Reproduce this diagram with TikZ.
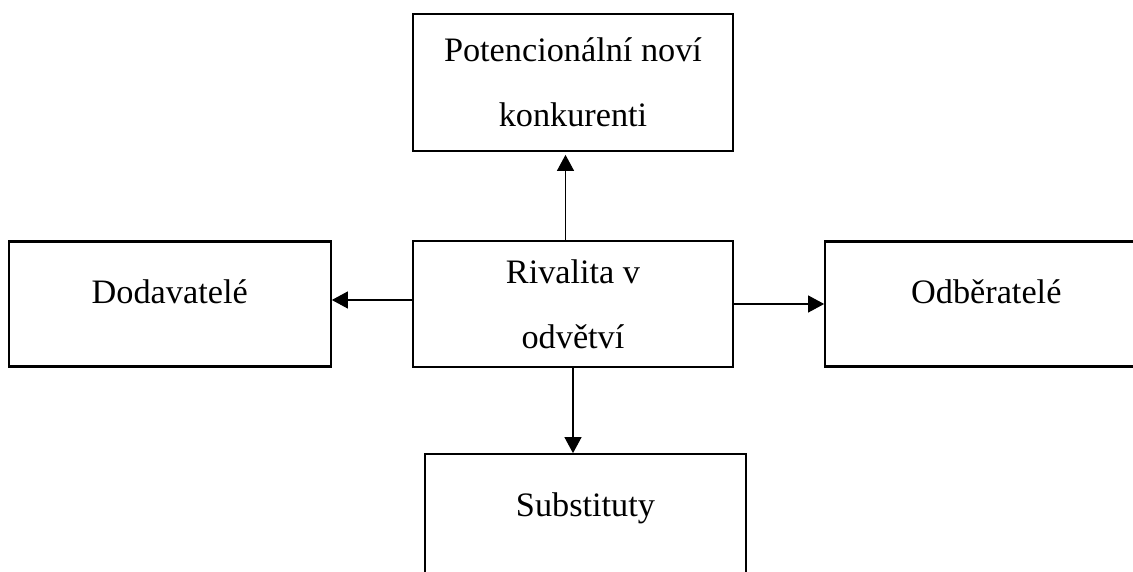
\documentclass[tikz,border=0pt]{standalone}
\usepackage{fontspec}
\setmainfont{Liberation Serif}
\usepackage{tikz}
\usetikzlibrary{positioning,arrows.meta}

\begin{document}
\begin{tikzpicture}[
    force/.style={rectangle, draw=black, line width=1.3pt, fill=white,
                  minimum width=6.42cm, minimum height=2.5cm, align=center,
                  font=\fontsize{19.5}{37}\selectfont},
    single/.style={text depth=0.48cm},
    arrow/.style={-{Triangle[length=0.32cm, width=0.34cm]}, line width=0.6pt, draw=black}
]
\useasboundingbox (-11.46,-5.36) rectangle (11.2,6.08);

% Centre: rivalry
\node[force, minimum width=6.4cm, minimum height=2.52cm] (riv) at (0,0) {Rivalita v\\odvětví};

% Surrounding forces
\node[force, minimum width=6.4cm, minimum height=2.74cm, above=1.76cm of riv] (new) {Potencionální noví\\konkurenti};
\node[force, single, minimum width=6.44cm, left=1.6cm of riv] (dod) {Dodavatelé};
\node[force, single, minimum width=6.44cm, right=1.8cm of riv] (odb) {Odběratelé};
\node[force, single, below=1.7cm of riv, xshift=0.25cm] (sub) {Substituty};

% Arrows out of the centre
\draw[arrow] ([xshift=-0.15cm]riv.north) -- ([xshift=-0.15cm,yshift=-0.06cm]new.south);
\draw[arrow] ([yshift=0.08cm]riv.west) -- ([yshift=0.08cm]dod.east);
\draw[arrow] (riv.east) -- (odb.west);
\draw[arrow] (riv.south) -- (riv.south |- sub.north);

\end{tikzpicture}
\end{document}
